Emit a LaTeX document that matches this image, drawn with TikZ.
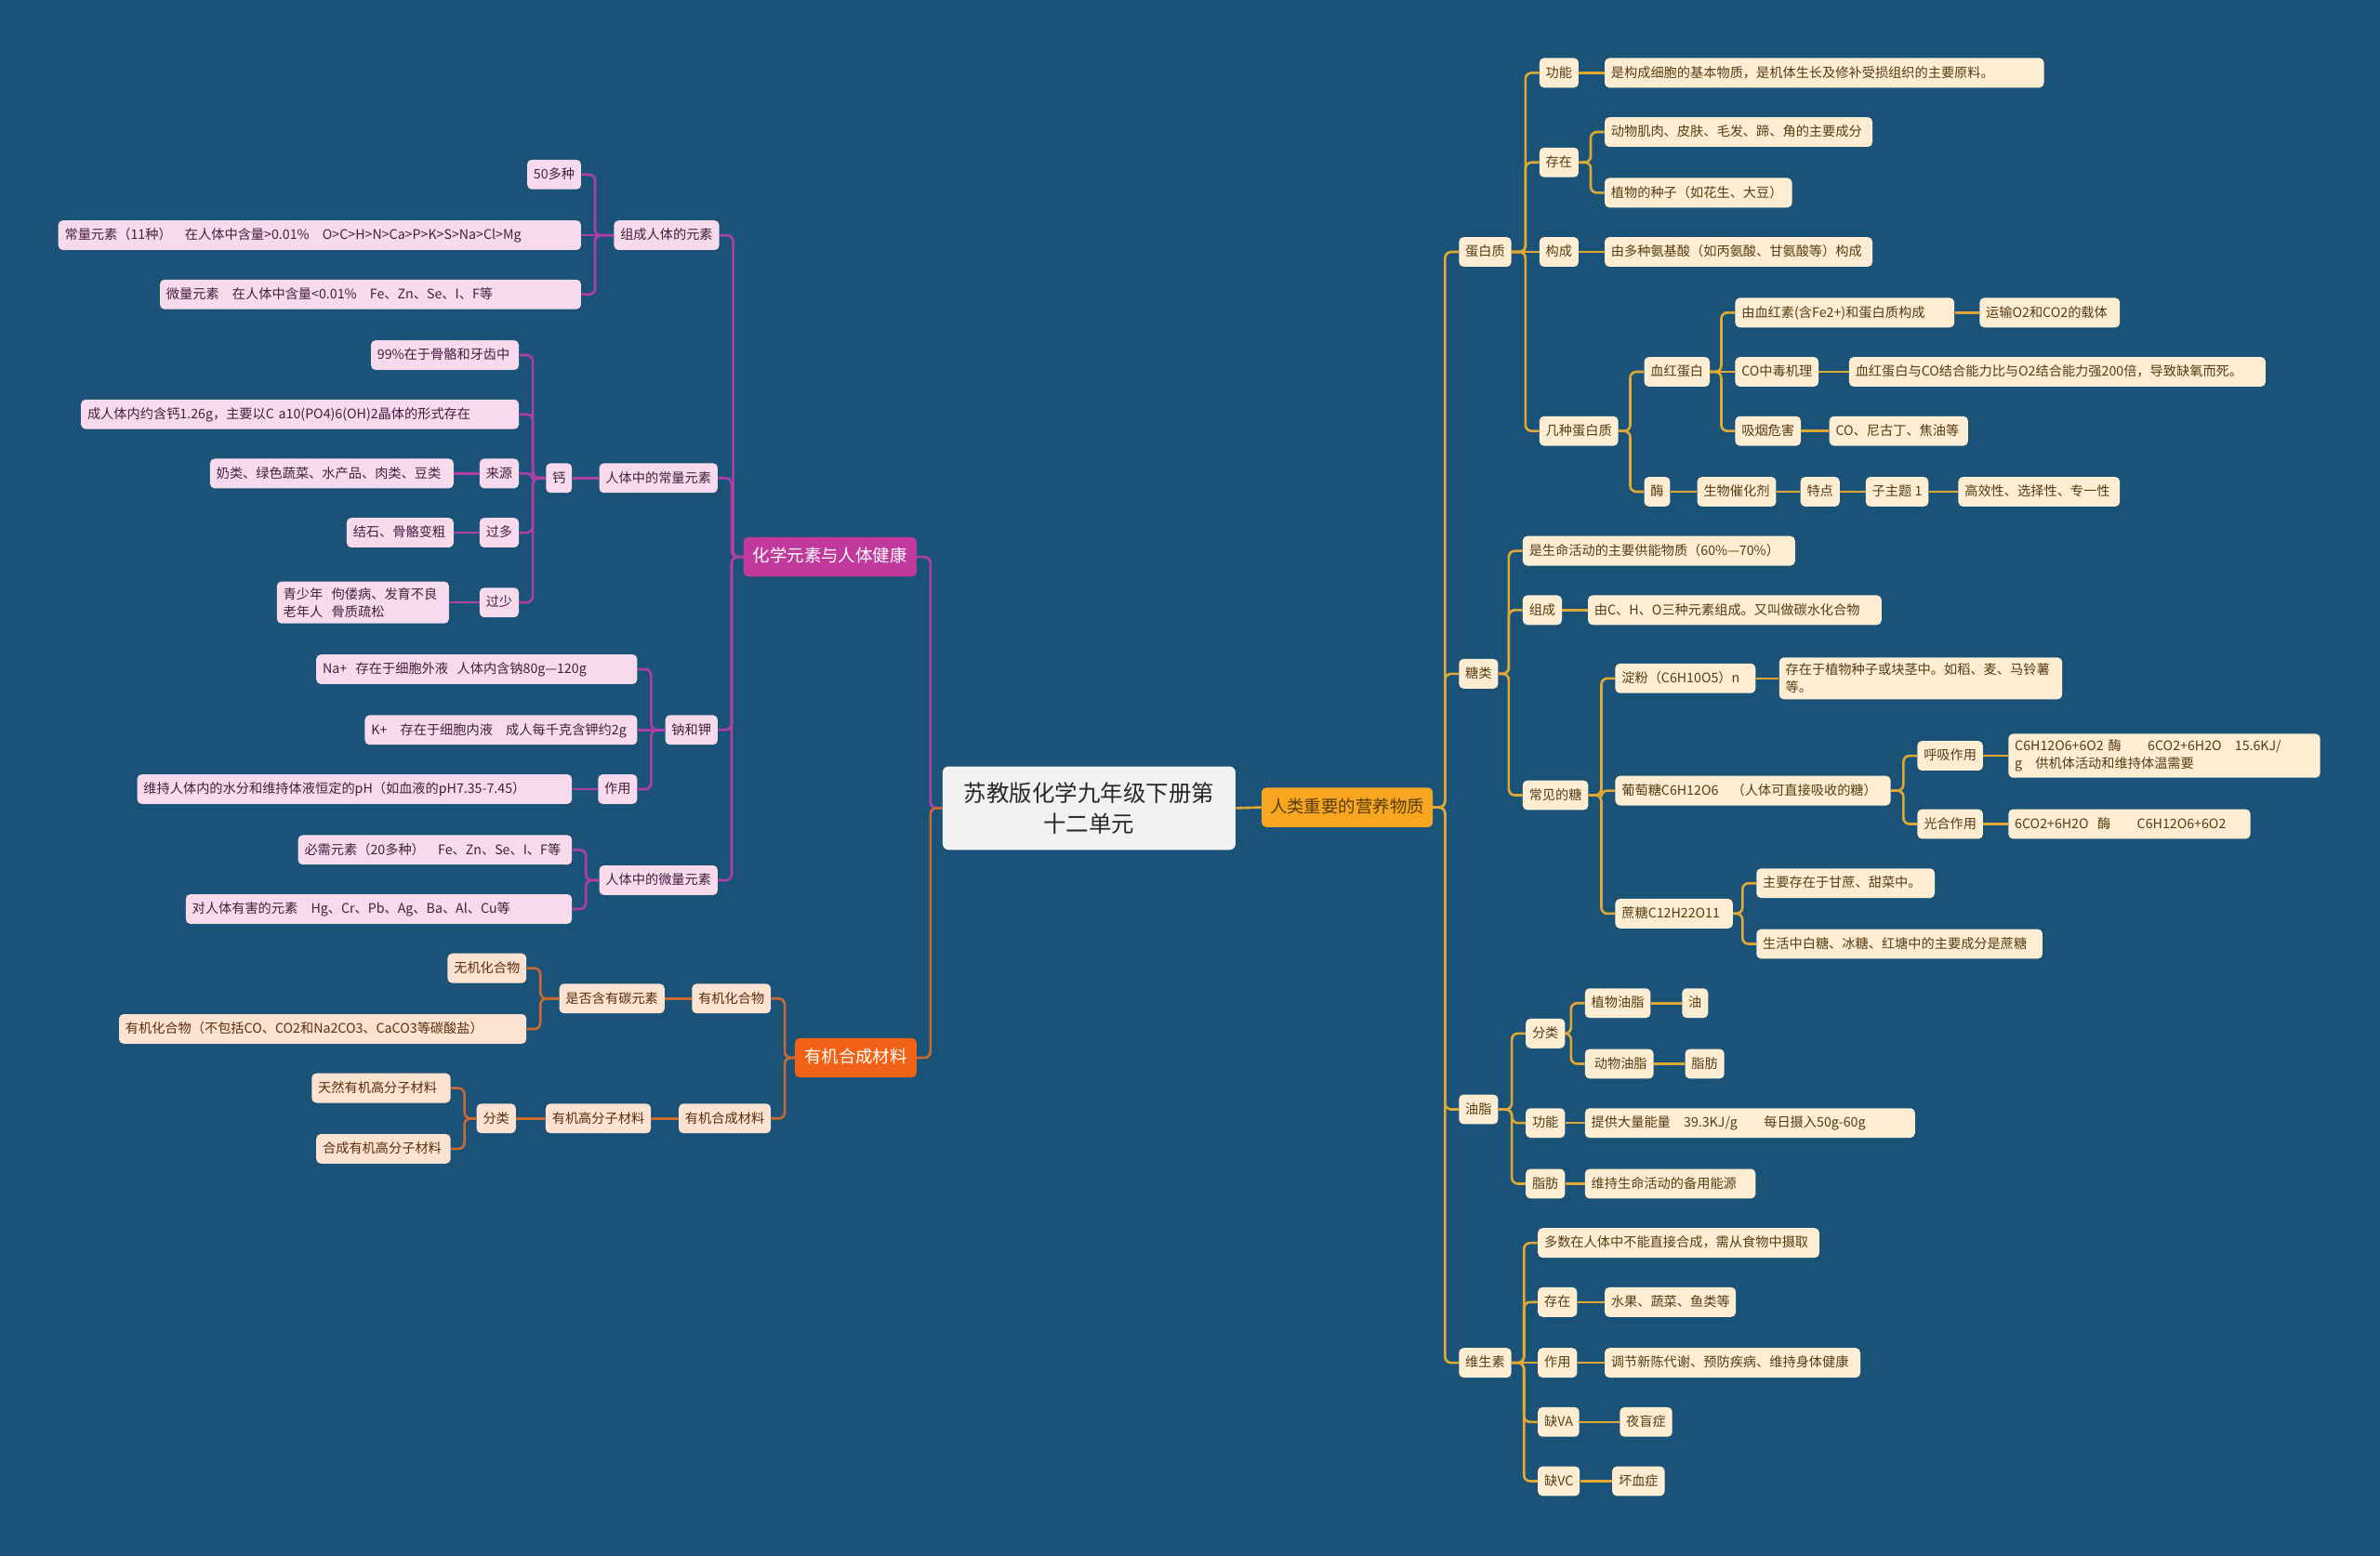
\documentclass[tikz,border=0pt]{standalone}
\usepackage{fontspec}
\setmainfont{Noto Sans CJK SC}
\definecolor{bgblue}{RGB}{26,83,119}
\definecolor{rootgray}{RGB}{242,242,242}
\definecolor{rootink}{RGB}{40,40,40}
\definecolor{mainyellow}{RGB}{248,166,32}
\definecolor{mainmag}{RGB}{193,57,156}
\definecolor{mainorange}{RGB}{242,98,22}
\definecolor{creamY}{RGB}{253,238,211}
\definecolor{inkY}{RGB}{88,60,18}
\definecolor{lineY}{RGB}{226,168,50}
\definecolor{pinkP}{RGB}{247,218,236}
\definecolor{inkP}{RGB}{70,30,66}
\definecolor{lineP}{RGB}{176,62,166}
\definecolor{peachO}{RGB}{252,226,208}
\definecolor{inkO}{RGB}{92,46,16}
\definecolor{lineO}{RGB}{205,105,48}
\tikzset{
	leaf/.style={rounded corners=3pt, font=\fontsize{8.7}{11.5}\selectfont,
		minimum height=19.5pt, inner xsep=4.2pt, inner ysep=2pt,
		text height=7.6pt, text depth=1.8pt},
	leafY/.style={leaf, fill=creamY, text=inkY, anchor=west},
	leafP/.style={leaf, fill=pinkP, text=inkP, anchor=east},
	leafO/.style={leaf, fill=peachO, text=inkO, anchor=east},
	two/.style={text height={}, text depth={}, align=left, inner ysep=4pt},
	bw/.style={text width=#1, align=left},
	mainbox/.style={rounded corners=3pt, font=\fontsize{11.3}{14}\selectfont,
		minimum height=26pt, inner xsep=5.5pt, text height=9pt, text depth=2pt},
	mainY/.style={mainbox, fill=mainyellow, text=inkY},
	mainP/.style={mainbox, fill=mainmag, text=white},
	mainO/.style={mainbox, fill=mainorange, text=white},
	rootbox/.style={rounded corners=4pt, fill=rootgray, text=rootink,
		font=\fontsize{15}{20}\selectfont, minimum width=193pt,
		minimum height=55pt, align=center},
	link/.style={line width=1.6pt, rounded corners=4pt},
	lnY/.style={link, draw=lineY},
	lnP/.style={link, draw=lineP},
	lnO/.style={link, draw=lineO}
}
\begin{document}
\begin{tikzpicture}[x=1pt, y=-1pt]
	\useasboundingbox (0,0) rectangle (1568,1025.3);
	\fill[bgblue] (-2,-2) rectangle (1570,1027.3);
	% centre and main branches
	\node[rootbox] (root) at (717.5,532.5) {苏教版化学九年级下册第\\十二单元};
	\node[mainY, anchor=west] (nut) at (831,532) {人类重要的营养物质};
	\node[mainP, anchor=east, minimum width=114pt] (ele) at (604,367) {化学元素与人体健康};
	\node[mainO, anchor=east, minimum width=80pt] (org) at (604,697) {有机合成材料};

	% right: protein
	\node[leafY] (pro) at (961,166) {蛋白质};
	\node[leafY] (proF) at (1014,48) {功能};
	\node[leafY, bw=281pt] (proFa) at (1057,48) {是构成细胞的基本物质，是机体生长及修补受损组织的主要原料。};
	\node[leafY] (proE) at (1014,107) {存在};
	\node[leafY, bw=168pt] (proEa) at (1057,87) {动物肌肉、皮肤、毛发、蹄、角的主要成分};
	\node[leafY, bw=115pt] (proEb) at (1057,127) {植物的种子（如花生、大豆）};
	\node[leafY] (proC) at (1014,166) {构成};
	\node[leafY, bw=168pt] (proCa) at (1057,166) {由多种氨基酸（如丙氨酸、甘氨酸等）构成};
	\node[leafY] (proK) at (1014,284) {几种蛋白质};
	\node[leafY] (hb) at (1083,245) {血红蛋白};
	\node[leafY, bw=136pt] (hb1) at (1143,206) {由血红素(含Fe2+)和蛋白质构成};
	\node[leafY, bw=84pt] (hb1a) at (1304,206) {运输O2和CO2的载体};
	\node[leafY] (hb2) at (1143,245) {CO中毒机理};
	\node[leafY, bw=266pt] (hb2a) at (1218,245) {血红蛋白与CO结合能力比与O2结合能力强200倍，导致缺氧而死。};
	\node[leafY] (hb3) at (1143,284) {吸烟危害};
	\node[leafY, bw=83pt] (hb3a) at (1205,284) {CO、尼古丁、焦油等};
	\node[leafY] (enz) at (1083,324) {酶};
	\node[leafY] (enz1) at (1118,324) {生物催化剂};
	\node[leafY] (enz2) at (1186,324) {特点};
	\node[leafY] (enz3) at (1229,324) {子主题 1};
	\node[leafY, bw=98pt] (enz4) at (1290,324) {高效性、选择性、专一性};

	% right: sugar
	\node[leafY] (sug) at (961,444) {糖类};
	\node[leafY, bw=171pt] (sug1) at (1003,363) {是生命活动的主要供能物质（60\%—70\%）};
	\node[leafY] (sugC) at (1003,402) {组成};
	\node[leafY, bw=185pt] (sugCa) at (1046,402) {由C、H、O三种元素组成。又叫做碳水化合物};
	\node[leafY] (sugK) at (1003,524) {常见的糖};
	\node[leafY, bw=84pt] (st) at (1064,447) {淀粉（C6H10O5）n};
	\node[leafY, two, text width=178pt] (sta) at (1172,447) {存在于植物种子或块茎中。如稻、麦、马铃薯\\等。};
	\node[leafY, bw=173pt] (glu) at (1064,521) {葡萄糖C6H12O6\quad（人体可直接吸收的糖）};
	\node[leafY] (resp) at (1263,498) {呼吸作用};
	\node[leafY, two, text width=197pt] (respa) at (1323,498) {C6H12O6+6O2 酶\qquad 6CO2+6H2O\quad 15.6KJ/\\g\quad 供机体活动和维持体温需要};
	\node[leafY] (photo) at (1263,543) {光合作用};
	\node[leafY, bw=151pt] (photoa) at (1323,543) {6CO2+6H2O\ \ 酶\qquad C6H12O6+6O2};
	\node[leafY, bw=69pt] (suc) at (1064,602) {蔗糖C12H22O11};
	\node[leafY, bw=109pt] (suca) at (1157,582) {主要存在于甘蔗、甜菜中。};
	\node[leafY, bw=180pt] (sucb) at (1157,622) {生活中白糖、冰糖、红塘中的主要成分是蔗糖};

	% right: fat
	\node[leafY] (fat) at (961,731) {油脂};
	\node[leafY] (fatK) at (1005,681) {分类};
	\node[leafY] (fatK1) at (1044,661) {植物油脂};
	\node[leafY] (fatK1a) at (1108,661) {油};
	\node[leafY] (fatK2) at (1044,701) {\ 动物油脂};
	\node[leafY] (fatK2a) at (1110,701) {脂肪};
	\node[leafY] (fatF) at (1005,740) {功能};
	\node[leafY, bw=209pt] (fatFa) at (1044,740) {提供大量能量\quad 39.3KJ/g\qquad 每日摄入50g-60g};
	\node[leafY] (fatZ) at (1005,780) {脂肪};
	\node[leafY, bw=104pt] (fatZa) at (1044,780) {维持生命活动的备用能源};

	% right: vitamin
	\node[leafY] (vit) at (961,898) {维生素};
	\node[leafY, bw=177pt] (vit1) at (1013,819) {多数在人体中不能直接合成，需从食物中摄取};
	\node[leafY] (vitE) at (1013,858) {存在};
	\node[leafY, bw=78pt] (vitEa) at (1057,858) {水果、蔬菜、鱼类等};
	\node[leafY] (vitU) at (1013,898) {作用};
	\node[leafY, bw=160pt] (vitUa) at (1057,898) {调节新陈代谢、预防疾病、维持身体健康};
	\node[leafY] (vitA) at (1013,937) {缺VA};
	\node[leafY] (vitAa) at (1067,937) {夜盲症};
	\node[leafY] (vitC) at (1013,976) {缺VC};
	\node[leafY] (vitCa) at (1062,976) {坏血症};

	% left: elements
	\node[leafP] (comp) at (474,155) {组成人体的元素};
	\node[leafP] (comp1) at (383,115) {50多种};
	\node[leafP, bw=336pt] (comp2) at (383,155) {常量元素（11种）\quad 在人体中含量>0.01\%\quad O>C>H>N>Ca>P>K>S>Na>Cl>Mg};
	\node[leafP, bw=269pt] (comp3) at (383,194) {微量元素\quad 在人体中含量<0.01\%\quad Fe、Zn、Se、I、F等};
	\node[leafP] (mac) at (473,315) {人体中的常量元素};
	\node[leafP] (ca) at (377,315) {钙};
	\node[leafP, bw=89pt] (ca1) at (342,234) {99\%在于骨骼和牙齿中};
	\node[leafP, bw=280pt] (ca2) at (342,273) {成人体内约含钙1.26g，主要以C a10(PO4)6(OH)2晶体的形式存在};
	\node[leafP] (caS) at (342,312) {来源};
	\node[leafP, bw=152pt] (caSa) at (299,312) {奶类、绿色蔬菜、水产品、肉类、豆类};
	\node[leafP] (caH) at (342,351) {过多};
	\node[leafP, bw=62pt] (caHa) at (299,351) {结石、骨骼变粗};
	\node[leafP] (caL) at (342,397) {过少};
	\node[leafP, two, text width=105pt] (caLa) at (296,397) {青少年\ \ 佝偻病、发育不良\\老年人\ \ 骨质疏松};
	\node[leafP] (nak) at (473,481) {钠和钾};
	\node[leafP, bw=203pt] (na) at (420,441) {Na+\ \ 存在于细胞外液\ \ 人体内含钠80g—120g};
	\node[leafP, bw=171pt] (k) at (420,481) {K+\quad 存在于细胞内液\quad 成人每千克含钾约2g};
	\node[leafP] (nakU) at (420,520) {作用};
	\node[leafP, bw=278pt] (nakUa) at (377,520) {维持人体内的水分和维持体液恒定的pH（如血液的pH7.35-7.45）};
	\node[leafP] (mic) at (473,580) {人体中的微量元素};
	\node[leafP, bw=172pt] (mic1) at (377,560) {必需元素（20多种）\quad Fe、Zn、Se、I、F等};
	\node[leafP, bw=246pt] (mic2) at (377,599) {对人体有害的元素\quad Hg、Cr、Pb、Ag、Ba、Al、Cu等};

	% left: materials
	\node[leafO] (oc) at (508,658) {有机化合物};
	\node[leafO] (ocq) at (438,658) {是否含有碳元素};
	\node[leafO] (ocq1) at (347,638) {无机化合物};
	\node[leafO, bw=260pt] (ocq2) at (347,678) {有机化合物（不包括CO、CO2和Na2CO3、CaCO3等碳酸盐）};
	\node[leafO] (syn) at (508,737) {有机合成材料};
	\node[leafO] (poly) at (429,737) {有机高分子材料};
	\node[leafO] (polyK) at (340,737) {分类};
	\node[leafO, bw=83pt] (polyK1) at (297,717) {天然有机高分子材料};
	\node[leafO, bw=80pt] (polyK2) at (297,757) {合成有机高分子材料};

	% connectors, right side
	\draw[lnY] (root.east) -- (nut.west);
	\draw[lnY] (nut.east) -| ([xshift=-9pt]pro.west) -- (pro.west);
	\draw[lnY] (nut.east) -| ([xshift=-9pt]sug.west) -- (sug.west);
	\draw[lnY] (nut.east) -| ([xshift=-9pt]fat.west) -- (fat.west);
	\draw[lnY] (nut.east) -| ([xshift=-9pt]vit.west) -- (vit.west);
	\draw[lnY] (pro.east) -| ([xshift=-9pt]proF.west) -- (proF.west);
	\draw[lnY] (pro.east) -| ([xshift=-9pt]proE.west) -- (proE.west);
	\draw[lnY] (pro.east) -- (proC.west);
	\draw[lnY] (pro.east) -| ([xshift=-9pt]proK.west) -- (proK.west);
	\draw[lnY] (proF.east) -- (proFa.west);
	\draw[lnY] (proE.east) -| ([xshift=-9pt]proEa.west) -- (proEa.west);
	\draw[lnY] (proE.east) -| ([xshift=-9pt]proEb.west) -- (proEb.west);
	\draw[lnY] (proC.east) -- (proCa.west);
	\draw[lnY] (proK.east) -| ([xshift=-9pt]hb.west) -- (hb.west);
	\draw[lnY] (proK.east) -| ([xshift=-9pt]enz.west) -- (enz.west);
	\draw[lnY] (hb.east) -| ([xshift=-9pt]hb1.west) -- (hb1.west);
	\draw[lnY] (hb.east) -- (hb2.west);
	\draw[lnY] (hb.east) -| ([xshift=-9pt]hb3.west) -- (hb3.west);
	\draw[lnY] (hb1.east) -- (hb1a.west);
	\draw[lnY] (hb2.east) -- (hb2a.west);
	\draw[lnY] (hb3.east) -- (hb3a.west);
	\draw[lnY] (enz.east) -- (enz1.west);
	\draw[lnY] (enz1.east) -- (enz2.west);
	\draw[lnY] (enz2.east) -- (enz3.west);
	\draw[lnY] (enz3.east) -- (enz4.west);
	\draw[lnY] (sug.east) -| ([xshift=-9pt]sug1.west) -- (sug1.west);
	\draw[lnY] (sug.east) -| ([xshift=-9pt]sugC.west) -- (sugC.west);
	\draw[lnY] (sug.east) -| ([xshift=-9pt]sugK.west) -- (sugK.west);
	\draw[lnY] (sugC.east) -- (sugCa.west);
	\draw[lnY] (sugK.east) -| ([xshift=-9pt]st.west) -- (st.west);
	\draw[lnY] (sugK.east) -| ([xshift=-9pt]glu.west) -- (glu.west);
	\draw[lnY] (sugK.east) -| ([xshift=-9pt]suc.west) -- (suc.west);
	\draw[lnY] (st.east) -- (sta.west);
	\draw[lnY] (glu.east) -| ([xshift=-9pt]resp.west) -- (resp.west);
	\draw[lnY] (glu.east) -| ([xshift=-9pt]photo.west) -- (photo.west);
	\draw[lnY] (resp.east) -- (respa.west);
	\draw[lnY] (photo.east) -- (photoa.west);
	\draw[lnY] (suc.east) -| ([xshift=-9pt]suca.west) -- (suca.west);
	\draw[lnY] (suc.east) -| ([xshift=-9pt]sucb.west) -- (sucb.west);
	\draw[lnY] (fat.east) -| ([xshift=-9pt]fatK.west) -- (fatK.west);
	\draw[lnY] (fat.east) -| ([xshift=-9pt]fatF.west) -- (fatF.west);
	\draw[lnY] (fat.east) -| ([xshift=-9pt]fatZ.west) -- (fatZ.west);
	\draw[lnY] (fatK.east) -| ([xshift=-9pt]fatK1.west) -- (fatK1.west);
	\draw[lnY] (fatK.east) -| ([xshift=-9pt]fatK2.west) -- (fatK2.west);
	\draw[lnY] (fatK1.east) -- (fatK1a.west);
	\draw[lnY] (fatK2.east) -- (fatK2a.west);
	\draw[lnY] (fatF.east) -- (fatFa.west);
	\draw[lnY] (fatZ.east) -- (fatZa.west);
	\draw[lnY] (vit.east) -| ([xshift=-9pt]vit1.west) -- (vit1.west);
	\draw[lnY] (vit.east) -| ([xshift=-9pt]vitE.west) -- (vitE.west);
	\draw[lnY] (vit.east) -- (vitU.west);
	\draw[lnY] (vit.east) -| ([xshift=-9pt]vitA.west) -- (vitA.west);
	\draw[lnY] (vit.east) -| ([xshift=-9pt]vitC.west) -- (vitC.west);
	\draw[lnY] (vitE.east) -- (vitEa.west);
	\draw[lnY] (vitU.east) -- (vitUa.west);
	\draw[lnY] (vitA.east) -- (vitAa.west);
	\draw[lnY] (vitC.east) -- (vitCa.west);

	% connectors, left side
	\draw[lnP] (root.west) -| ([xshift=9pt]ele.east) -- (ele.east);
	\draw[lnO] (root.west) -| ([xshift=9pt]org.east) -- (org.east);
	\draw[lnP] (ele.west) -| ([xshift=9pt]comp.east) -- (comp.east);
	\draw[lnP] (ele.west) -| ([xshift=9pt]mac.east) -- (mac.east);
	\draw[lnP] (ele.west) -| ([xshift=9pt]nak.east) -- (nak.east);
	\draw[lnP] (ele.west) -| ([xshift=9pt]mic.east) -- (mic.east);
	\draw[lnP] (comp.west) -| ([xshift=9pt]comp1.east) -- (comp1.east);
	\draw[lnP] (comp.west) -- (comp2.east);
	\draw[lnP] (comp.west) -| ([xshift=9pt]comp3.east) -- (comp3.east);
	\draw[lnP] (mac.west) -- (ca.east);
	\draw[lnP] (ca.west) -| ([xshift=9pt]ca1.east) -- (ca1.east);
	\draw[lnP] (ca.west) -| ([xshift=9pt]ca2.east) -- (ca2.east);
	\draw[lnP] (ca.west) -| ([xshift=9pt]caS.east) -- (caS.east);
	\draw[lnP] (ca.west) -| ([xshift=9pt]caH.east) -- (caH.east);
	\draw[lnP] (ca.west) -| ([xshift=9pt]caL.east) -- (caL.east);
	\draw[lnP] (caS.west) -- (caSa.east);
	\draw[lnP] (caH.west) -- (caHa.east);
	\draw[lnP] (caL.west) -- (caLa.east);
	\draw[lnP] (nak.west) -| ([xshift=9pt]na.east) -- (na.east);
	\draw[lnP] (nak.west) -- (k.east);
	\draw[lnP] (nak.west) -| ([xshift=9pt]nakU.east) -- (nakU.east);
	\draw[lnP] (nakU.west) -- (nakUa.east);
	\draw[lnP] (mic.west) -| ([xshift=9pt]mic1.east) -- (mic1.east);
	\draw[lnP] (mic.west) -| ([xshift=9pt]mic2.east) -- (mic2.east);
	\draw[lnO] (org.west) -| ([xshift=9pt]oc.east) -- (oc.east);
	\draw[lnO] (org.west) -| ([xshift=9pt]syn.east) -- (syn.east);
	\draw[lnO] (oc.west) -- (ocq.east);
	\draw[lnO] (ocq.west) -| ([xshift=9pt]ocq1.east) -- (ocq1.east);
	\draw[lnO] (ocq.west) -| ([xshift=9pt]ocq2.east) -- (ocq2.east);
	\draw[lnO] (syn.west) -- (poly.east);
	\draw[lnO] (poly.west) -- (polyK.east);
	\draw[lnO] (polyK.west) -| ([xshift=9pt]polyK1.east) -- (polyK1.east);
	\draw[lnO] (polyK.west) -| ([xshift=9pt]polyK2.east) -- (polyK2.east);
\end{tikzpicture}
\end{document}
